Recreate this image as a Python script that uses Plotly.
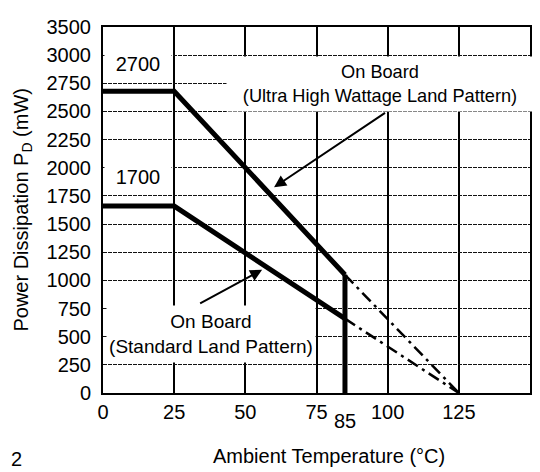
import plotly.graph_objects as go

# Data
temp_ultra = [0, 25, 85]
pd_ultra = [2680, 2680, 1050]
temp_std = [0, 25, 85]
pd_std = [1660, 1660, 660]
# derating beyond 85 °C (dash-dot)
temp_ultra_ext = [85, 125]
pd_ultra_ext = [1050, 0]
temp_std_ext = [85, 125]
pd_std_ext = [660, 0]
# vertical limit at 85 °C
temp_limit = [85, 85]
pd_limit = [0, 1050]

x_ticks = [0, 25, 50, 75, 100, 125, 150]
x_ticktext = ["0", "25", "50", "75", "100", "125", "150"]
y_ticks = [0, 250, 500, 750, 1000, 1250, 1500, 1750, 2000, 2250, 2500, 2750, 3000, 3250]
y_ticktext = ["0", "250", "500", "750", "1000", "1250", "1500", "1750", "2000", "2250",
              "2500", "2750", "3000", "3500"]

FONT = "Liberation Sans, Arial, sans-serif"
FS = 20
TXT = dict(size=FS, color="black", family=FONT)
TXT_ULTRA = dict(size=18.2, color="black", family=FONT)
TXT_STD = dict(size=19, color="black", family=FONT)

fig = go.Figure()
fig.add_trace(go.Scatter(x=temp_ultra, y=pd_ultra, mode="lines",
                         line=dict(color="black", width=5), showlegend=False))
fig.add_trace(go.Scatter(x=temp_std, y=pd_std, mode="lines",
                         line=dict(color="black", width=5), showlegend=False))
fig.add_trace(go.Scatter(x=temp_ultra_ext, y=pd_ultra_ext, mode="lines",
                         line=dict(color="black", width=2.5, dash="12px,5px,3px,5px"), showlegend=False))
fig.add_trace(go.Scatter(x=temp_std_ext, y=pd_std_ext, mode="lines",
                         line=dict(color="black", width=2.5, dash="12px,5px,3px,5px"), showlegend=False))
fig.add_trace(go.Scatter(x=temp_limit, y=pd_limit, mode="lines",
                         line=dict(color="black", width=5), showlegend=False))

annotations = [
    dict(x=12.3, y=2924, xref="x", yref="y", text="2700", showarrow=False,
         xanchor="center", yanchor="middle",
         bgcolor="white", width=64, height=28, font=TXT),
    dict(x=12.3, y=1914, xref="x", yref="y", text="1700", showarrow=False,
         xanchor="center", yanchor="middle",
         bgcolor="white", width=64, height=28, font=TXT),
    dict(x=97.3, y=2745, xref="x", yref="y",
         text="On Board<br>(Ultra High Wattage Land Pattern)", showarrow=False,
         xanchor="center", yanchor="middle",
         bgcolor="white", width=304, height=52, font=TXT_ULTRA),
    dict(x=38, y=524, xref="x", yref="y",
         text="On Board<br>(Standard Land Pattern)", showarrow=False,
         xanchor="center", yanchor="middle",
         bgcolor="white", width=206, height=54, font=TXT_STD),
    dict(x=60.1, y=1827, ax=99.6, ay=2497, xref="x", yref="y", axref="x", ayref="y",
         text="", showarrow=True, arrowhead=2, arrowsize=1.2, arrowwidth=2, arrowcolor="black"),
    dict(x=55.9, y=1095, ax=33.6, ay=789, xref="x", yref="y", axref="x", ayref="y",
         text="", showarrow=True, arrowhead=2, arrowsize=1.2, arrowwidth=2, arrowcolor="black"),
    dict(x=85, y=-0.076, xref="x", yref="paper", text="85", showarrow=False,
         xanchor="center", yanchor="middle", font=TXT),
    dict(x=0.529, y=-0.172, xref="paper", yref="paper", text="Ambient Temperature (°C)",
         xanchor="center", yanchor="middle", showarrow=False, font=TXT),
    dict(x=-0.189, y=0.502, xref="paper", yref="paper", text="Power Dissipation P<sub>D</sub> (mW)",
         xanchor="center", yanchor="middle", textangle=-90, showarrow=False, font=TXT),
    dict(x=-0.203, y=-0.18, xref="paper", yref="paper", text="2", showarrow=False,
         xanchor="center", yanchor="middle", font=TXT),
]

fig.update_layout(
    width=532, height=464,
    margin=dict(l=95, r=8, t=11, b=79),
    paper_bgcolor="white", plot_bgcolor="white",
    font=dict(family=FONT, size=FS, color="black"),
    showlegend=False,
    annotations=annotations,
)
fig.update_xaxes(range=[0, 150], tickvals=x_ticks, ticktext=x_ticktext,
                 showgrid=True, gridcolor="black", gridwidth=1.5,
                 showline=True, linecolor="black", linewidth=2, mirror=True,
                 ticks="", ticklen=0, ticklabelstandoff=0, zeroline=False,
                 tickfont=TXT)
fig.update_yaxes(range=[0, 3250], tickvals=y_ticks, ticktext=y_ticktext,
                 showgrid=True, gridcolor="#111", gridwidth=1.2, griddash="4px,1px",
                 showline=True, linecolor="black", linewidth=2, mirror=True,
                 ticks="", ticklen=0, ticklabelstandoff=6, zeroline=False,
                 tickfont=TXT)

fig.write_html("out.html")
